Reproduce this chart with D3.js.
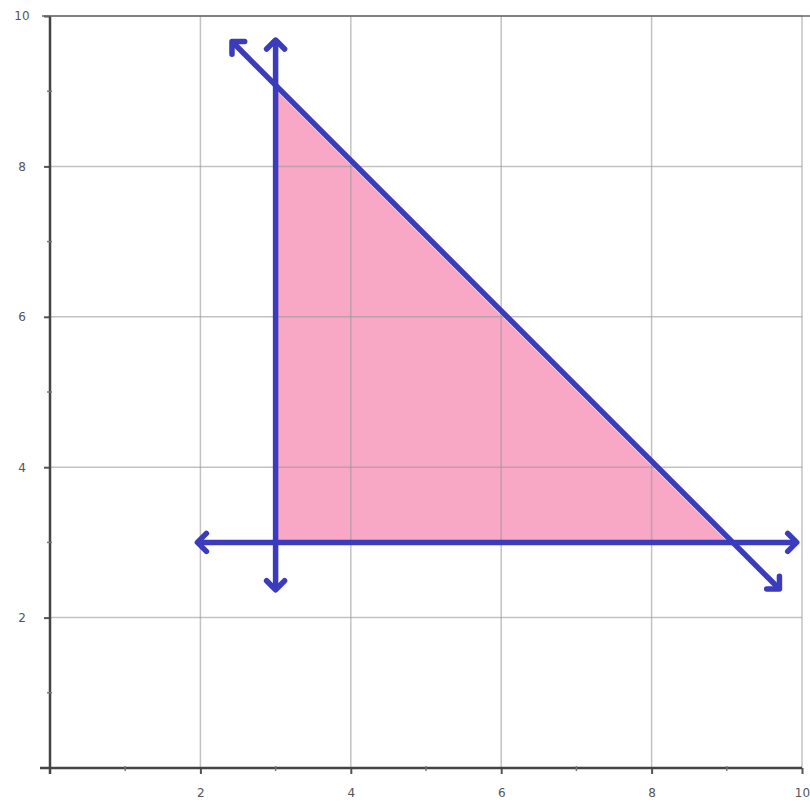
<!DOCTYPE html>
<html>
<meta charset="utf-8">
<script src="https://cdn.jsdelivr.net/npm/d3@7/dist/d3.min.js"></script>
<title>Feasible region</title>
<style>
body { margin: 0; background: #fff; }
</style>
<body>
<script type="text/javascript">

// ticks
var majorTicks = [2, 4, 6, 8, 10];
var minorTicks = [1, 3, 5, 7, 9];

// shaded region: x >= 3, y >= 3, x + y <= 12
var region = [[3, 3], [3, 9], [9, 3]];

// boundary lines with arrows at both ends
var lines = [
    {id: "x3",   from: [3, 2.37],    to: [3, 9.68]},
    {id: "y3",   from: [1.96, 3],    to: [9.93, 3]},
    {id: "x+y",  from: [9.7, 2.38],  to: [2.42, 9.66]}
];

var size = { width: 810, height: 811 };

var xScale = d3.scaleLinear().domain([0, 10]).range([50, 802]);
var yScale = d3.scaleLinear().domain([0, 10]).range([768, 16]);

var svg = d3.select("body")
    .append("svg")
    .attr("width", size.width)
    .attr("height", size.height);

// arrow marker (open chevron)
svg.append("defs").append("marker")
    .attr("id", "arrow")
    .attr("viewBox", "-14 -14 28 28")
    .attr("refX", 0)
    .attr("refY", 0)
    .attr("markerWidth", 28)
    .attr("markerHeight", 28)
    .attr("markerUnits", "userSpaceOnUse")
    .attr("orient", "auto-start-reverse")
    .append("path")
    .attr("d", "M-9,-9 L0,0 L-9,9")
    .style("fill", "none")
    .style("stroke", "#3b3bbd")
    .style("stroke-width", 5.5)
    .style("stroke-linecap", "round")
    .style("stroke-linejoin", "round");

// shaded area
svg.append("path")
    .datum(region)
    .attr("d", d3.line()
        .x(function(d) { return xScale(d[0]); })
        .y(function(d) { return yScale(d[1]); }))
    .style("fill", "#f8a8c5")
    .style("stroke", "#f8a8c5")
    .style("stroke-width", 2);

// grid
var grid = svg.append("g").attr("class", "grid");
grid.selectAll(".gx")
    .data(majorTicks)
    .enter().append("line")
    .attr("x1", function(d) { return xScale(d); })
    .attr("x2", function(d) { return xScale(d); })
    .attr("y1", yScale(0))
    .attr("y2", yScale(10))
    .style("stroke", "#9a9a9a")
    .style("stroke-opacity", 0.6)
    .style("stroke-width", 1.5);
grid.selectAll(".gy")
    .data(majorTicks)
    .enter().append("line")
    .attr("y1", function(d) { return yScale(d); })
    .attr("y2", function(d) { return yScale(d); })
    .attr("x1", xScale(0))
    .attr("x2", xScale(10))
    .style("stroke", "#9a9a9a")
    .style("stroke-opacity", 0.6)
    .style("stroke-width", 1.5);

// axes
var xAxis = svg.append("g")
    .attr("class", "axisX")
    .attr("transform", "translate(0," + yScale(0) + ")")
    .call(d3.axisBottom(xScale)
        .tickValues(majorTicks)
        .tickSize(6)
        .tickPadding(14)
        .tickFormat(d3.format("d")));
var yAxis = svg.append("g")
    .attr("class", "axisY")
    .attr("transform", "translate(" + xScale(0) + ",0)")
    .call(d3.axisLeft(yScale)
        .tickValues(majorTicks)
        .tickSize(6)
        .tickPadding(22)
        .tickFormat(d3.format("d")));

[xAxis, yAxis].forEach(function(ax) {
    ax.select(".domain").remove();
    ax.selectAll("line").style("stroke", "#555").style("stroke-width", 2);
    ax.selectAll("text")
        .style("font", "12px 'DejaVu Sans', sans-serif")
        .style("fill", "#555");
});
yAxis.selectAll("text").attr("text-anchor", "middle");

// axis lines
svg.append("line")
    .attr("x1", xScale(0) - 10).attr("x2", xScale(10))
    .attr("y1", yScale(0)).attr("y2", yScale(0))
    .style("stroke", "#444").style("stroke-width", 2.5);
svg.append("line")
    .attr("x1", xScale(0)).attr("x2", xScale(0))
    .attr("y1", yScale(0) + 6).attr("y2", yScale(10))
    .style("stroke", "#444").style("stroke-width", 2.5);
svg.append("line")
    .attr("x1", xScale(0) - 8).attr("x2", size.width)
    .attr("y1", yScale(10)).attr("y2", yScale(10))
    .style("stroke", "#666").style("stroke-width", 1.5);

// minor ticks
svg.selectAll(".mx")
    .data(minorTicks)
    .enter().append("line")
    .attr("x1", function(d) { return xScale(d); })
    .attr("x2", function(d) { return xScale(d); })
    .attr("y1", yScale(0) - 2)
    .attr("y2", yScale(0) + 3)
    .style("stroke", "#777").style("stroke-width", 1.5);
svg.selectAll(".my")
    .data(minorTicks)
    .enter().append("line")
    .attr("y1", function(d) { return yScale(d); })
    .attr("y2", function(d) { return yScale(d); })
    .attr("x1", xScale(0) - 3)
    .attr("x2", xScale(0) + 2)
    .style("stroke", "#777").style("stroke-width", 1.5);

// boundary lines
svg.selectAll(".bound")
    .data(lines)
    .enter().append("line")
    .attr("class", "bound")
    .attr("x1", function(d) { return xScale(d.from[0]); })
    .attr("y1", function(d) { return yScale(d.from[1]); })
    .attr("x2", function(d) { return xScale(d.to[0]); })
    .attr("y2", function(d) { return yScale(d.to[1]); })
    .attr("marker-start", "url(#arrow)")
    .attr("marker-end", "url(#arrow)")
    .style("stroke", "#3b3bbd")
    .style("stroke-width", 5.5);

</script>
</body>
</html>
